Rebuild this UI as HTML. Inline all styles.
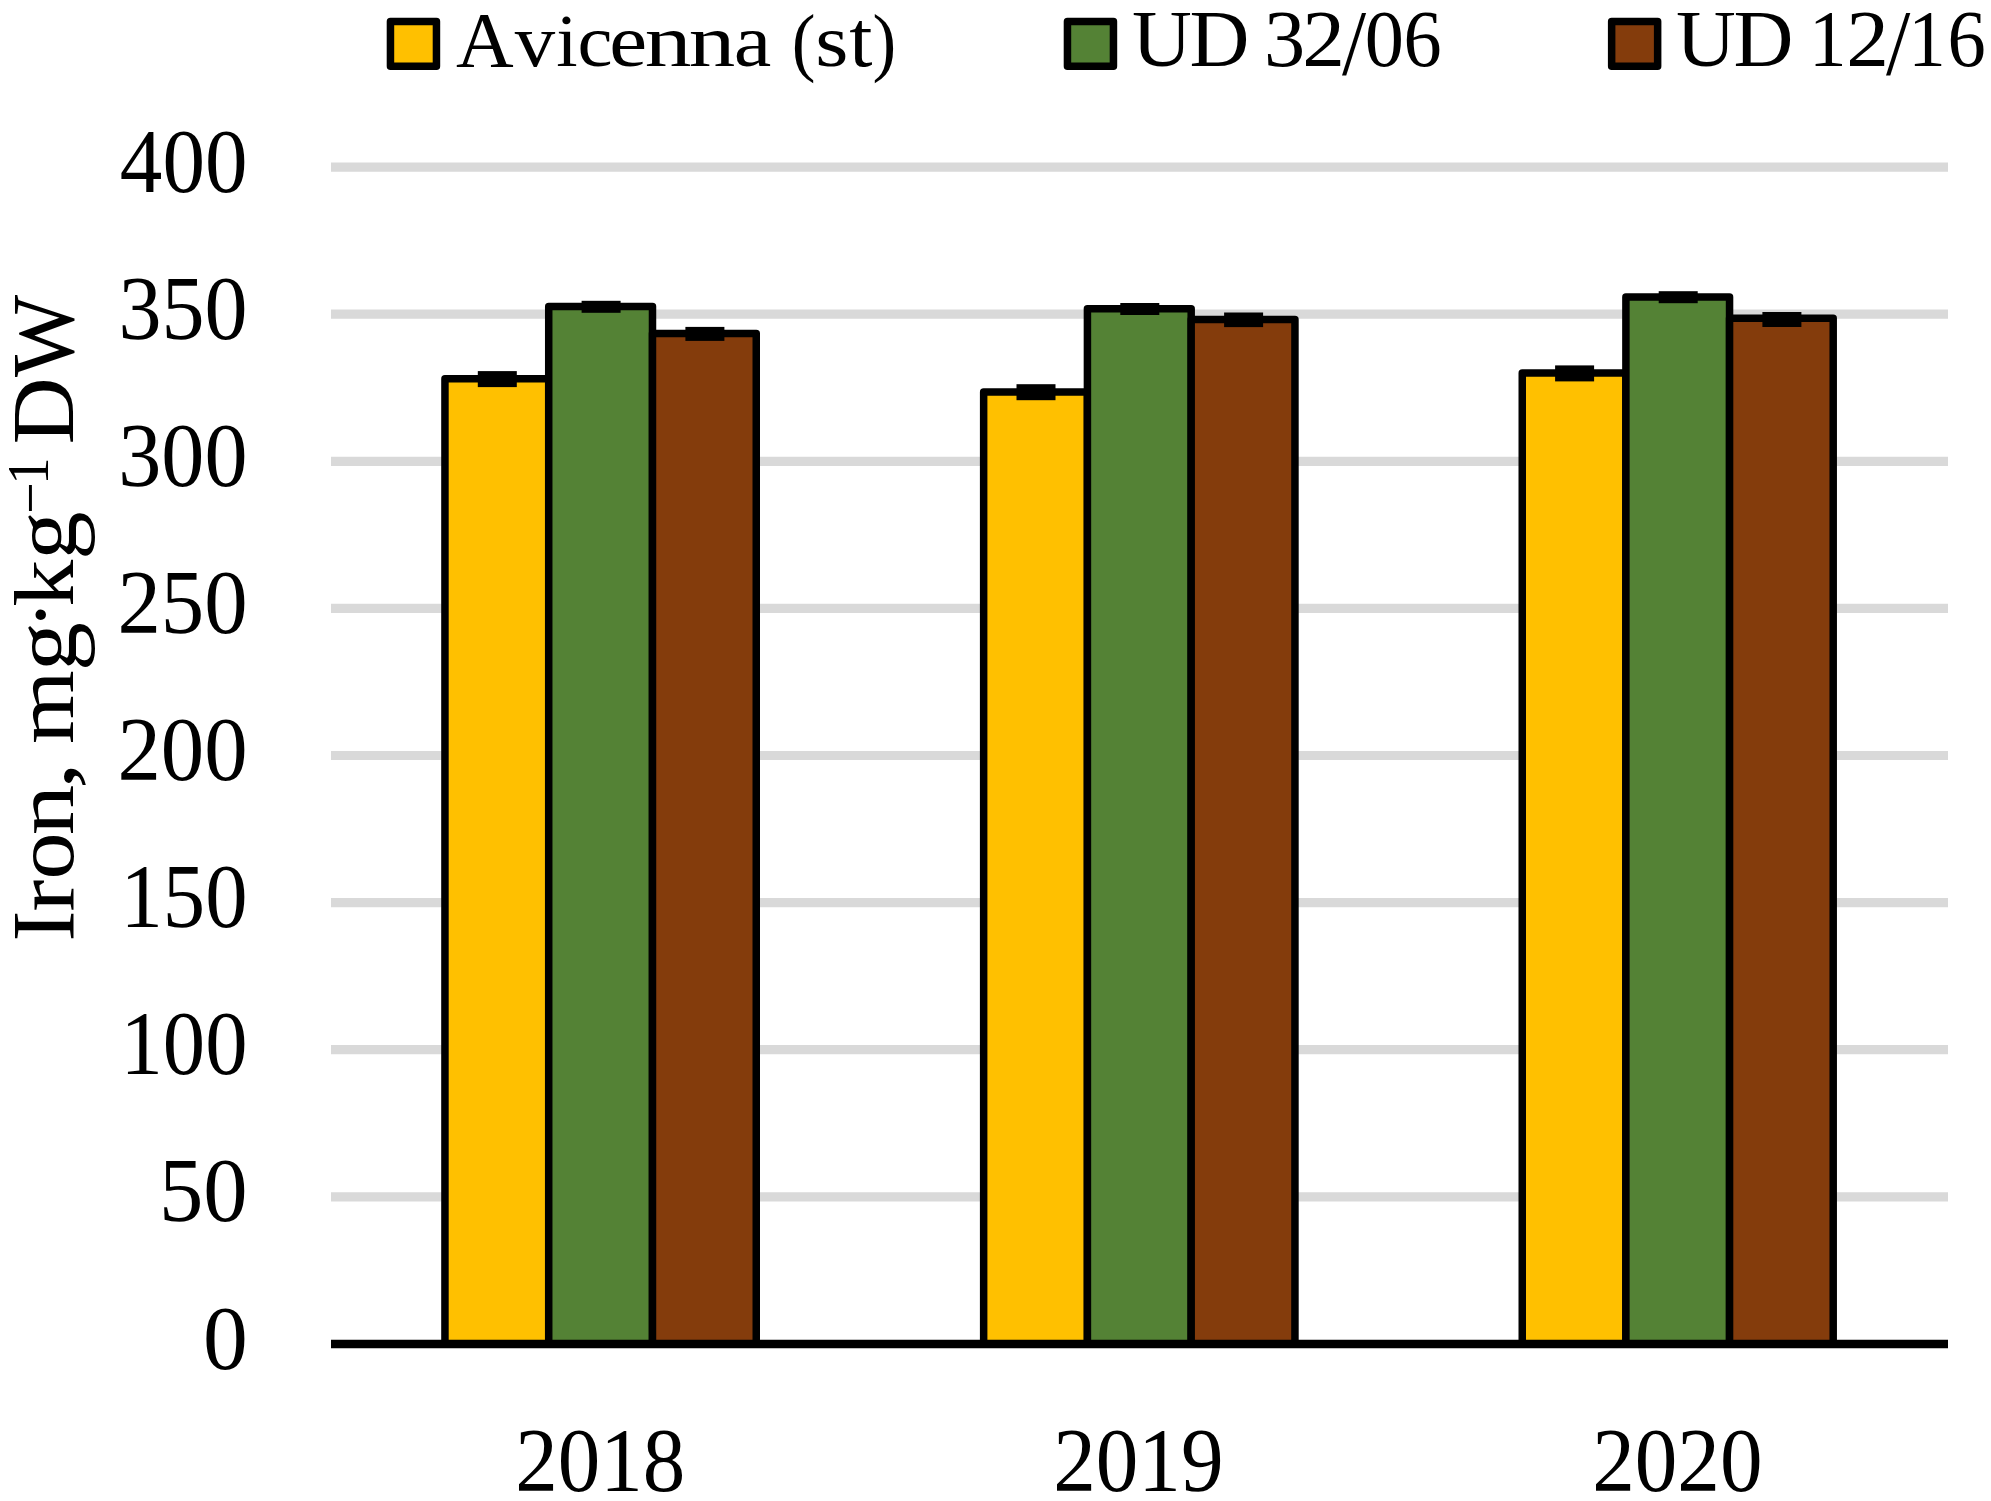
<!DOCTYPE html>
<html lang="en">
<head>
<meta charset="utf-8">
<title>Iron, mg·kg⁻¹ DW</title>
<style>
html,body{margin:0;padding:0;background:#fff;}
body{width:1991px;height:1501px;overflow:hidden;}
svg{display:block;}
text{font-family:"Liberation Serif","DejaVu Serif",serif;fill:#000;font-kerning:none;}
</style>
</head>
<body>
<svg width="1991" height="1501" viewBox="0 0 1991 1501">
<rect x="0" y="0" width="1991" height="1501" fill="#ffffff"/>

<g stroke="#D9D9D9" stroke-width="9.2" fill="none">
<line x1="331" y1="1196.8" x2="1948" y2="1196.8"/>
<line x1="331" y1="1049.7" x2="1948" y2="1049.7"/>
<line x1="331" y1="902.6" x2="1948" y2="902.6"/>
<line x1="331" y1="755.5" x2="1948" y2="755.5"/>
<line x1="331" y1="608.4" x2="1948" y2="608.4"/>
<line x1="331" y1="461.3" x2="1948" y2="461.3"/>
<line x1="331" y1="314.2" x2="1948" y2="314.2"/>
<line x1="331" y1="167.1" x2="1948" y2="167.1"/>
</g>
<g stroke="#000" stroke-width="7.5" stroke-linejoin="round">
<rect x="444.95" y="378.8" width="103.77" height="965.1" fill="#FFC000"/>
<rect x="548.72" y="306.5" width="103.77" height="1037.4" fill="#548235"/>
<rect x="652.48" y="333.6" width="103.77" height="1010.3" fill="#843C0C"/>
<rect x="983.65" y="391.9" width="103.77" height="952.0" fill="#FFC000"/>
<rect x="1087.42" y="308.7" width="103.77" height="1035.2" fill="#548235"/>
<rect x="1191.18" y="319.5" width="103.77" height="1024.4" fill="#843C0C"/>
<rect x="1522.25" y="373.1" width="103.65" height="970.8" fill="#FFC000"/>
<rect x="1625.90" y="296.9" width="103.65" height="1047.0" fill="#548235"/>
<rect x="1729.55" y="318.3" width="103.65" height="1025.6" fill="#843C0C"/>
</g>
<g fill="#000">
<rect x="477.8" y="371.1" width="39" height="16"/>
<rect x="581.6" y="300.8" width="39" height="12"/>
<rect x="685.4" y="326.9" width="39" height="14"/>
<rect x="1016.5" y="384.2" width="39" height="16"/>
<rect x="1120.3" y="303.0" width="39" height="12"/>
<rect x="1224.1" y="312.5" width="39" height="14.6"/>
<rect x="1555.1" y="365.4" width="39" height="16"/>
<rect x="1658.7" y="291.2" width="39" height="12"/>
<rect x="1762.4" y="312.0" width="39" height="15"/>
</g>
<line x1="331" y1="1343.9" x2="1948" y2="1343.9" stroke="#000" stroke-width="8.5"/>
<rect x="390.45" y="21.45" width="46" height="44.7" fill="#FFC000" stroke="#000" stroke-width="7.5" stroke-linejoin="round"/>
<text y="66.1" font-size="79.5"><tspan x="456.02" y="66.10" font-size="78" textLength="57.66" lengthAdjust="spacingAndGlyphs">A</tspan><tspan x="514.80" y="66.10" font-size="75" textLength="40.40" lengthAdjust="spacingAndGlyphs">v</tspan><tspan x="556.18" y="66.10" font-size="75" textLength="21.38" lengthAdjust="spacingAndGlyphs">i</tspan><tspan x="577.59" y="66.10" font-size="75" textLength="35.03" lengthAdjust="spacingAndGlyphs">c</tspan><tspan x="609.36" y="66.10" font-size="75" textLength="37.89" lengthAdjust="spacingAndGlyphs">e</tspan><tspan x="644.75" y="66.10" font-size="75" textLength="46.76" lengthAdjust="spacingAndGlyphs">n</tspan><tspan x="688.86" y="66.10" font-size="75" textLength="46.55" lengthAdjust="spacingAndGlyphs">n</tspan><tspan x="733.73" y="66.10" font-size="75" textLength="37.53" lengthAdjust="spacingAndGlyphs">a</tspan> <tspan x="791.67" y="66.80" font-size="76" textLength="23.73" lengthAdjust="spacingAndGlyphs">(</tspan><tspan x="815.20" y="66.10" font-size="75" textLength="33.18" lengthAdjust="spacingAndGlyphs">s</tspan><tspan x="849.18" y="66.10" textLength="23.21" lengthAdjust="spacingAndGlyphs">t</tspan><tspan x="872.60" y="66.80" font-size="76" textLength="23.73" lengthAdjust="spacingAndGlyphs">)</tspan></text>
<rect x="1067.45" y="21.45" width="46" height="44.7" fill="#548235" stroke="#000" stroke-width="7.5" stroke-linejoin="round"/>
<text y="66.1" font-size="79.5"><tspan x="1132.06" y="66.10" textLength="59.78" lengthAdjust="spacingAndGlyphs">U</tspan><tspan x="1189.61" y="66.10" textLength="59.91" lengthAdjust="spacingAndGlyphs">D</tspan> <tspan x="1264.06" y="66.10" textLength="41.15" lengthAdjust="spacingAndGlyphs">3</tspan><tspan x="1302.25" y="66.10" textLength="42.66" lengthAdjust="spacingAndGlyphs">2</tspan><tspan x="1341.90" y="73.70" font-size="93" textLength="24.10" lengthAdjust="spacingAndGlyphs">/</tspan><tspan x="1364.72" y="66.10" textLength="39.17" lengthAdjust="spacingAndGlyphs">0</tspan><tspan x="1403.42" y="66.10" textLength="38.15" lengthAdjust="spacingAndGlyphs">6</tspan></text>
<rect x="1611.65" y="21.45" width="46" height="44.7" fill="#843C0C" stroke="#000" stroke-width="7.5" stroke-linejoin="round"/>
<text y="66.1" font-size="79.5"><tspan x="1676.06" y="66.10" textLength="59.78" lengthAdjust="spacingAndGlyphs">U</tspan><tspan x="1733.61" y="66.10" textLength="59.91" lengthAdjust="spacingAndGlyphs">D</tspan> <tspan x="1809.01" y="66.10" textLength="37.49" lengthAdjust="spacingAndGlyphs">1</tspan><tspan x="1846.25" y="66.10" textLength="42.66" lengthAdjust="spacingAndGlyphs">2</tspan><tspan x="1885.90" y="73.70" font-size="93" textLength="24.30" lengthAdjust="spacingAndGlyphs">/</tspan><tspan x="1908.21" y="66.10" textLength="37.49" lengthAdjust="spacingAndGlyphs">1</tspan><tspan x="1947.41" y="66.10" textLength="38.27" lengthAdjust="spacingAndGlyphs">6</tspan></text>
<text y="1368.5" font-size="90.5"><tspan x="202.89" textLength="44.83" lengthAdjust="spacingAndGlyphs">0</tspan></text>
<text y="1221.4" font-size="90.5"><tspan x="158.94" textLength="88.74" lengthAdjust="spacingAndGlyphs">50</tspan></text>
<text y="1074.3" font-size="90.5"><tspan x="120.56" textLength="126.96" lengthAdjust="spacingAndGlyphs">100</tspan></text>
<text y="927.2" font-size="90.5"><tspan x="120.56" textLength="126.96" lengthAdjust="spacingAndGlyphs">150</tspan></text>
<text y="780.1" font-size="90.5"><tspan x="117.49" textLength="130.12" lengthAdjust="spacingAndGlyphs">200</tspan></text>
<text y="633.0" font-size="90.5"><tspan x="117.49" textLength="130.12" lengthAdjust="spacingAndGlyphs">250</tspan></text>
<text y="485.9" font-size="90.5"><tspan x="118.27" textLength="129.31" lengthAdjust="spacingAndGlyphs">300</tspan></text>
<text y="338.8" font-size="90.5"><tspan x="118.48" textLength="129.10" lengthAdjust="spacingAndGlyphs">350</tspan></text>
<text y="191.7" font-size="90.5"><tspan x="119.84" textLength="127.71" lengthAdjust="spacingAndGlyphs">400</tspan></text>
<text y="1490.5" font-size="90.5"><tspan x="515.16" textLength="170.08" lengthAdjust="spacingAndGlyphs">2018</tspan></text>
<text y="1490.5" font-size="90.5"><tspan x="1053.15" textLength="170.44" lengthAdjust="spacingAndGlyphs">2019</tspan></text>
<text y="1490.5" font-size="90.5"><tspan x="1592.16" textLength="170.39" lengthAdjust="spacingAndGlyphs">2020</tspan></text>
<text transform="translate(73,938) rotate(-90)" y="0" font-size="84"><tspan x="-3.45" y="0.00" font-size="88" textLength="30.92" lengthAdjust="spacingAndGlyphs">I</tspan><tspan x="26.27" y="0.00" textLength="32.18" lengthAdjust="spacingAndGlyphs">r</tspan><tspan x="58.62" y="0.00" textLength="46.95" lengthAdjust="spacingAndGlyphs">o</tspan><tspan x="102.88" y="0.00" textLength="50.55" lengthAdjust="spacingAndGlyphs">n</tspan><tspan x="148.83" y="0.00" textLength="27.36" lengthAdjust="spacingAndGlyphs">,</tspan> <tspan x="193.91" y="0.00" textLength="73.67" lengthAdjust="spacingAndGlyphs">m</tspan><tspan x="266.67" y="2.50" font-size="90" textLength="49.20" lengthAdjust="spacingAndGlyphs">g</tspan><tspan x="308.64" y="-3.50" font-size="88" textLength="29.03" lengthAdjust="spacingAndGlyphs">·</tspan><tspan x="331.21" y="0.00" textLength="46.99" lengthAdjust="spacingAndGlyphs">k</tspan><tspan x="377.91" y="2.50" font-size="90" textLength="48.75" lengthAdjust="spacingAndGlyphs">g</tspan><tspan x="424.32" y="-22.80" font-size="59.4" textLength="31.51" lengthAdjust="spacingAndGlyphs">−</tspan><tspan x="453.21" y="-25.00" font-size="59.4" textLength="27.27" lengthAdjust="spacingAndGlyphs">1</tspan> <tspan x="493.42" y="0.00" font-size="88" textLength="67.21" lengthAdjust="spacingAndGlyphs">D</tspan><tspan x="560.91" y="0.00" font-size="88" textLength="82.26" lengthAdjust="spacingAndGlyphs">W</tspan></text>
</svg>
</body>
</html>
